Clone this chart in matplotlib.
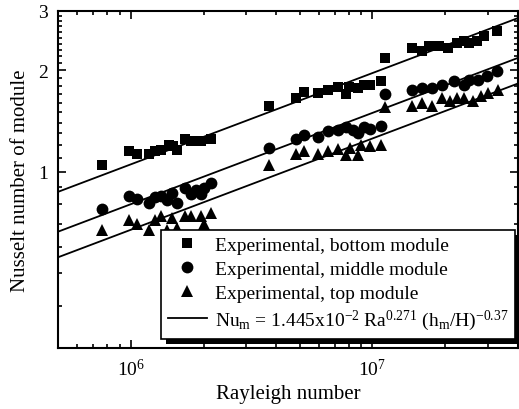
import matplotlib
matplotlib.use("Agg")
import matplotlib.pyplot as plt
import numpy as np
from matplotlib.patches import Rectangle
from matplotlib.ticker import FixedLocator, NullFormatter, LogLocator
from matplotlib.transforms import IdentityTransform

plt.rcParams["font.family"] = ["Liberation Serif", "DejaVu Serif"]
plt.rcParams["mathtext.fontset"] = "custom"
plt.rcParams["mathtext.rm"] = "Liberation Serif"
plt.rcParams["mathtext.it"] = "Liberation Serif:italic"

# data
ra_bottom = [7.6e5, 9.8e5, 1.06e6, 1.19e6, 1.26e6, 1.34e6, 1.44e6, 1.50e6, 1.56e6, 1.67e6,
             1.78e6, 1.96e6, 2.15e6, 3.73e6, 4.82e6, 5.2e6, 5.94e6, 6.53e6, 7.2e6, 7.8e6,
             8.0e6, 8.68e6, 9.2e6, 9.8e6, 1.08e7, 1.13e7, 1.46e7, 1.61e7, 1.72e7, 1.88e7,
             2.06e7, 2.24e7, 2.39e7, 2.5e7, 2.7e7, 2.9e7, 3.27e7]
nu_bottom = [1.05, 1.15, 1.13, 1.13, 1.15, 1.16, 1.20, 1.19, 1.16, 1.25,
             1.23, 1.23, 1.25, 1.57, 1.66, 1.73, 1.71, 1.75, 1.79, 1.70,
             1.78, 1.77, 1.81, 1.81, 1.86, 2.18, 2.33, 2.28, 2.36, 2.36,
             2.33, 2.41, 2.44, 2.41, 2.44, 2.53, 2.62]

ra_middle = [7.6e5, 9.8e5, 1.06e6, 1.19e6, 1.26e6, 1.34e6, 1.41e6, 1.48e6, 1.56e6, 1.67e6,
             1.78e6, 1.86e6, 1.96e6, 2.0e6, 2.15e6, 3.73e6, 4.82e6, 5.2e6, 5.94e6, 6.53e6,
             7.2e6, 7.8e6, 8.3e6, 8.68e6, 9.2e6, 9.8e6, 1.08e7, 1.13e7, 1.46e7, 1.61e7,
             1.77e7, 1.94e7, 2.18e7, 2.39e7, 2.5e7, 2.73e7, 2.97e7, 3.27e7]
nu_middle = [0.775, 0.848, 0.831, 0.808, 0.842, 0.848, 0.825, 0.866, 0.808, 0.896,
             0.860, 0.884, 0.860, 0.896, 0.927, 1.18, 1.25, 1.29, 1.27, 1.32,
             1.33, 1.36, 1.33, 1.30, 1.36, 1.34, 1.37, 1.70, 1.75, 1.77,
             1.77, 1.81, 1.86, 1.81, 1.87, 1.87, 1.92, 1.99]

ra_top = [7.6e5, 9.8e5, 1.06e6, 1.19e6, 1.26e6, 1.34e6, 1.41e6, 1.48e6, 1.56e6, 1.67e6,
          1.78e6, 1.96e6, 2.0e6, 2.15e6, 3.73e6, 4.82e6, 5.2e6, 5.94e6, 6.53e6, 7.2e6,
          7.8e6, 8.1e6, 8.7e6, 9.0e6, 9.8e6, 1.08e7, 1.13e7, 1.46e7, 1.61e7, 1.77e7,
          1.94e7, 2.09e7, 2.24e7, 2.39e7, 2.6e7, 2.8e7, 3.0e7, 3.3e7]
nu_top = [0.67, 0.72, 0.70, 0.67, 0.72, 0.74, 0.67, 0.73, 0.68, 0.74,
          0.74, 0.74, 0.70, 0.755, 1.05, 1.13, 1.15, 1.13, 1.155, 1.17,
          1.12, 1.18, 1.12, 1.20, 1.19, 1.20, 1.56, 1.57, 1.60, 1.57,
          1.65, 1.62, 1.65, 1.65, 1.62, 1.68, 1.71, 1.75]

# correlation Nu_m = 1.445e-2 Ra^0.271 (h_m/H)^-0.37
fit_coef = 1.445e-2
fit_ra_exp = 0.271
fit_h_exp = -0.37
h_ratio = [0.23, 0.48, 0.77]  # bottom, middle, top module

fig = plt.figure(figsize=(5.19, 4.10), dpi=100)
ax = fig.add_axes([58 / 519, 61 / 410, 460 / 519, 337 / 410])
ax.set_xscale("log")
ax.set_yscale("log")
ax.set_xlim(5e5, 4e7)
ax.set_ylim(0.3, 3)

ra_line = np.logspace(np.log10(5e5), np.log10(4e7), 50)
for i, h in enumerate(h_ratio):
    ax.plot(ra_line, fit_coef * ra_line ** fit_ra_exp * h ** fit_h_exp,
            color="black", lw=1.3, zorder=2,
            label=(r"Nu$_\mathrm{m}$ = 1.445x10$^{-2}$ Ra$^{0.271}$ (h$_\mathrm{m}$/H)$^{-0.37}$"
                   if i == 0 else None))

ax.plot(ra_bottom, nu_bottom, "s", color="black", ms=7.5, mew=0, zorder=3,
        label="Experimental, bottom module")
ax.plot(ra_middle, nu_middle, "o", color="black", ms=8.5, mew=0, zorder=3,
        label="Experimental, middle module")
ax.plot(ra_top, nu_top, "^", color="black", ms=8.5, mew=0, zorder=3,
        label="Experimental, top module")

# ticks
ax.xaxis.set_major_locator(LogLocator(base=10, numticks=10))
ax.xaxis.set_minor_locator(LogLocator(base=10, subs=np.arange(2, 10), numticks=10))
ax.xaxis.set_minor_formatter(NullFormatter())
ax.yaxis.set_major_locator(FixedLocator([1, 2, 3]))
ax.set_yticklabels(["1", "2", "3"])
y_minor = [v / 10 for v in range(4, 10)] + [1 + v / 10 for v in range(1, 10)] + [2 + v / 10 for v in range(1, 10)]
ax.yaxis.set_minor_locator(FixedLocator(y_minor))
ax.yaxis.set_minor_formatter(NullFormatter())
ax.tick_params(which="both", direction="in", top=True, right=True, labelsize=14, width=1.2)
ax.tick_params(which="major", length=6, pad=7)
ax.tick_params(which="minor", length=3)
for s in ax.spines.values():
    s.set_linewidth(1.5)

ax.set_xlabel("Rayleigh number", fontsize=15, labelpad=4)
ax.set_ylabel("Nusselt number of module", fontsize=15, labelpad=6)

handles, labels = ax.get_legend_handles_labels()
order = [1, 2, 3, 0]
leg = ax.legend([handles[k] for k in order], [labels[k] for k in order],
                loc="lower right", bbox_to_anchor=(0.9935, 0.0267), borderaxespad=0,
                fontsize=14, frameon=True, fancybox=False, edgecolor="black",
                framealpha=1, handlelength=2.0, handletextpad=0.4, labelspacing=0.32,
                borderpad=0.35)
leg.get_frame().set_linewidth(1.2)
leg.set_zorder(6)

# solid offset shadow behind the legend box
fig.canvas.draw()
bb = leg.get_window_extent()
shadow = Rectangle((bb.x0 + 5, bb.y0 - 5), bb.width, bb.height, transform=IdentityTransform(),
                   facecolor="black", edgecolor="none", zorder=5.5, clip_on=False)
ax.add_patch(shadow)

fig.savefig("out.png", dpi=100)
